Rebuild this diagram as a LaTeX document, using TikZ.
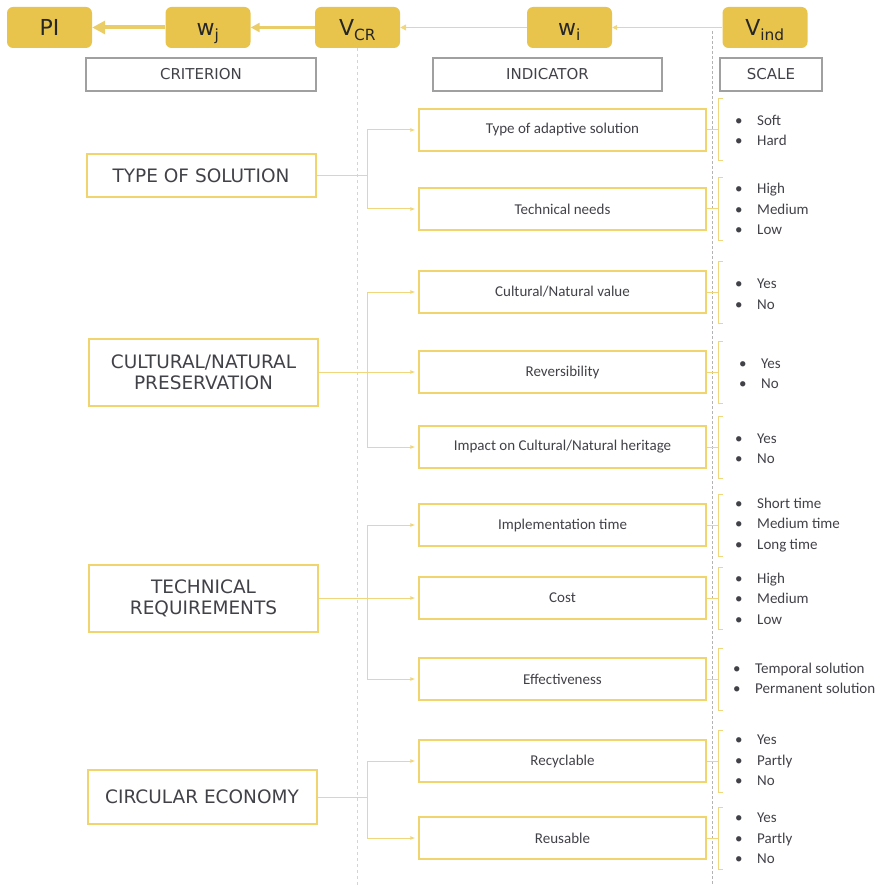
\documentclass[tikz,border=0pt]{standalone}
\usepackage{fontspec}
\setmainfont{DejaVu Sans}
\newfontfamily\calfont{Carlito}
\usepackage{tikz}
\usetikzlibrary{arrows.meta,calc}

\definecolor{gold}{RGB}{232,196,76}
\definecolor{paleline}{RGB}{240,214,125}
\definecolor{boxline}{RGB}{240,212,110}
\definecolor{headgray}{RGB}{160,160,160}
\definecolor{txtgray}{RGB}{65,65,72}

\newcommand{\sitem}{\makebox[22pt][l]{\textbullet}}

\begin{document}
\begin{tikzpicture}[x=1pt,y=-1pt,
        tag/.style = {fill=gold, rounded corners=6pt,
            minimum width=85pt, minimum height=41pt, inner sep=0pt,
            text height=20pt, text depth=3pt,
            font=\fontsize{22}{24}\selectfont, text=black!85},
        head/.style = {draw=headgray, line width=1.8pt,
            minimum height=33pt, inner sep=0pt,
            font=\fontsize{15}{17}\selectfont, text=txtgray},
        crit/.style = {draw=boxline, line width=2pt,
            minimum width=229pt, inner sep=0pt, align=center,
            font=\fontsize{18.5}{21}\selectfont, text=txtgray},
        ind/.style = {draw=boxline, line width=1.3pt,
            minimum width=287pt, minimum height=42pt, inner sep=0pt,
            font=\calfont\fontsize{15}{17}\selectfont, text=txtgray},
        scl/.style = {anchor=west, inner sep=0pt, align=left,
            font=\calfont\fontsize{15}{20.5}\selectfont, text=txtgray},
        conn/.style = {draw=paleline, line width=1pt},
        arr/.style = {conn, shorten >=3pt, -{Latex[length=5pt,width=4pt]}},
        ydash/.style = {draw=paleline, line width=1pt, dash pattern=on 3pt off 3pt},
        gdash/.style = {draw=headgray!80, line width=1pt, dash pattern=on 3pt off 2pt}]

        \useasboundingbox (0,0) rectangle (881,885);
        \coordinate (bot) at (0,885);
        \coordinate (tk) at (367,0);

        % Top chain
        \node[tag] (pi) at (49.5,27.5) {PI};
        \node[tag] (wj) at (208,27.5) {w\textsubscript{j}};
        \node[tag] (vcr) at (357.5,27.5) {V\textsubscript{CR}};
        \node[tag] (wi) at (569.5,27.5) {w\textsubscript{i}};
        \node[tag] (vind) at (765,27.5) {V\textsubscript{ind}};

        \draw[gold!85, line width=4pt, -{Triangle[length=13pt,width=13pt]}] (wj) -- (pi);
        \draw[gold!85, line width=2.5pt, -{Triangle[length=9pt,width=9pt]}] (vcr) -- (wj);
        \draw[paleline, line width=1.3pt, -{Triangle[length=6pt,width=6pt]}] (wi) -- (vcr);
        \draw[paleline, line width=1pt, -{Triangle[length=5pt,width=5pt]}] (vind) -- (wi);

        % Column lines
        \draw[ydash] (vcr.south) -- (vcr.south |- bot);
        \draw[gdash] (712,31) -- (712,885);

        % Headers
        \node[head, minimum width=230pt] (hcrit) at (201,74.5) {CRITERION};
        \node[head, minimum width=229pt] (hind) at (547.5,74.5) {INDICATOR};
        \node[head, minimum width=102pt] (hscale) at (771,74.5) {SCALE};

        % Criteria
        \node[crit, minimum height=43pt] (c1) at (201,175.5) {TYPE OF SOLUTION};
        \node[crit, minimum height=67pt] (c2) at (203.5,372) {CULTURAL/NATURAL\\PRESERVATION};
        \node[crit, minimum height=67pt] (c3) at (203.5,598) {TECHNICAL\\REQUIREMENTS};
        \node[crit, minimum height=54pt] (c4) at (202,797) {CIRCULAR ECONOMY};

        % Indicators
        \node[ind] (i1) at (562.5,130) {Type of adaptive solution};
        \node[ind] (i2) at (562.5,209) {Technical needs};
        \node[ind] (i3) at (562.5,292) {Cultural/Natural value};
        \node[ind] (i4) at (562.5,372) {Reversibility};
        \node[ind] (i5) at (562.5,447) {Impact on Cultural/Natural heritage};
        \node[ind] (i6) at (562.5,525) {Implementation time};
        \node[ind] (i7) at (562.5,598) {Cost};
        \node[ind] (i8) at (562.5,679) {Effectiveness};
        \node[ind] (i9) at (562.5,761) {Recyclable};
        \node[ind] (i10) at (562.5,838) {Reusable};

        % Criterion to indicator
        \draw[conn] (c1.east) -- (c1.east -| tk);
        \draw[arr] (c1.east -| tk) |- (i1.west);
        \draw[arr] (c1.east -| tk) |- (i2.west);

        \draw[arr] (c2.east) -- (i4.west);
        \draw[arr] (c2.east -| tk) |- (i3.west);
        \draw[arr] (c2.east -| tk) |- (i5.west);

        \draw[arr] (c3.east) -- (i7.west);
        \draw[arr] (c3.east -| tk) |- (i6.west);
        \draw[arr] (c3.east -| tk) |- (i8.west);

        \draw[conn] (c4.east) -- (c4.east -| tk);
        \draw[arr] (c4.east -| tk) |- (i9.west);
        \draw[arr] (c4.east -| tk) |- (i10.west);

        % Scale brackets
        \foreach \k in {1,...,10} {
            \draw[conn] (i\k.east) -- ++(12,0);
            \draw[conn] ($(i\k.east)+(16,-31)$) -- ++(-4,0) -- ++(0,62) -- ++(4,0);
        }

        % Scales
        \node[scl] (s1) at (735,130.5) {\sitem Soft\\\sitem Hard};
        \node[scl] (s2) at (735,209) {\sitem High\\\sitem Medium\\\sitem Low};
        \node[scl] (s3) at (735,294) {\sitem Yes\\\sitem No};
        \node[scl] (s4) at (739,373.5) {\sitem Yes\\\sitem No};
        \node[scl] (s5) at (735,448.5) {\sitem Yes\\\sitem No};
        \node[scl] (s6) at (735,525) {\sitem Short time\\\sitem Medium time\\\sitem Long time};
        \node[scl] (s7) at (735,598.5) {\sitem High\\\sitem Medium\\\sitem Low};
        \node[scl] (s8) at (733,678.5) {\sitem Temporal solution\\\sitem Permanent solution};
        \node[scl] (s9) at (735,760.5) {\sitem Yes\\\sitem Partly\\\sitem No};
        \node[scl] (s10) at (735,838.5) {\sitem Yes\\\sitem Partly\\\sitem No};
    \end{tikzpicture}
\end{document}
